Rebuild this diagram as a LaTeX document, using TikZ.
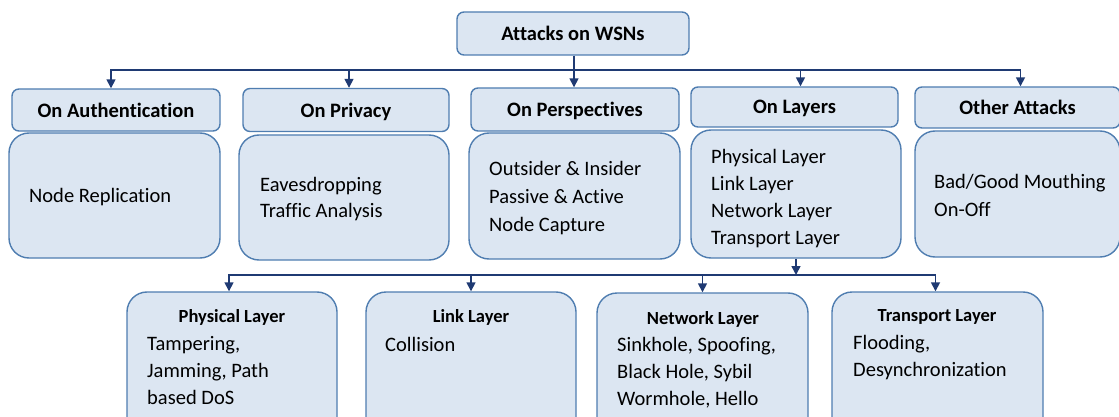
\documentclass[tikz,border=0pt]{standalone}
\usepackage{fontspec}
\setmainfont[Ligatures=NoCommon]{Carlito}
\usetikzlibrary{arrows.meta}
\definecolor{boxfill}{HTML}{DCE6F2}
\definecolor{boxline}{HTML}{4F7DB0}
\definecolor{arrowc}{HTML}{1F3A73}
\tikzset{
  hdr/.style={draw=boxline, fill=boxfill, line width=1.4pt, rounded corners=7pt, inner sep=0pt,
    text depth=0pt, font=\bfseries\fontsize{20.5}{22}\selectfont},
  cbox/.style={draw=boxline, fill=boxfill, line width=1.4pt, rounded corners=20pt, inner sep=0pt},
  txt/.style={anchor=west, align=left, inner sep=0pt, yshift=-2pt, font=\fontsize{20.5}{27.5}\selectfont},
  subhdr/.style={inner sep=0pt, font=\bfseries\fontsize{18.5}{20}\selectfont},
  arr/.style={draw=arrowc, line width=1.6pt, -{Triangle[length=9pt,width=9pt]}}
}
\begin{document}
\begin{tikzpicture}[x=1pt,y=-1pt]
\useasboundingbox (0,0) rectangle (1119,417);
% top
\node[hdr, minimum width=232pt, minimum height=43pt] (top) at (573,33.5) {Attacks on WSNs};
% headers
\node[hdr, minimum width=208pt, minimum height=42pt] (authH) at (116,110) {On Authentication};
\node[hdr, minimum width=206pt, minimum height=43pt] (privH) at (346,110) {On Privacy};
\node[hdr, minimum width=208pt, minimum height=43pt] (perH) at (575,109.5) {On Perspectives};
\node[hdr, minimum width=207pt, minimum height=40pt] (layH) at (794.5,107) {On Layers};
\node[hdr, minimum width=205pt, minimum height=41pt] (othH) at (1017.5,107.5) {Other Attacks};
% content boxes
\node[cbox, minimum width=211pt, minimum height=125pt] (authC) at (114.5,195.5) {};
\node[cbox, minimum width=210pt, minimum height=125pt] (privC) at (344,197.5) {};
\node[cbox, minimum width=211pt, minimum height=126pt] (perC) at (574.5,196) {};
\node[cbox, minimum width=210pt, minimum height=128pt] (layC) at (796,194) {};
\node[cbox, minimum width=205pt, minimum height=126pt] (othC) at (1017.5,194) {};
\node[txt] (authT) at (29,195) {Node Replication};
\node[txt, font=\fontsize{20.5}{25.5}\selectfont] (privT) at (260,197) {Eavesdropping\\Traffic Analysis};
\node[txt, font=\fontsize{20.5}{28}\selectfont] (perT) at (489,196) {Outsider \& Insider\\Passive \& Active\\Node Capture};
\node[txt, font=\fontsize{20.5}{27}\selectfont] (layT) at (711,196.5) {Physical Layer\\Link Layer\\Network Layer\\Transport Layer};
\node[txt] (othT) at (934,193.5) {Bad/Good Mouthing\\On-Off};
% bottom boxes
\node[cbox, minimum width=210pt, minimum height=150pt] (phyB) at (232,367) {};
\node[cbox, minimum width=210pt, minimum height=150pt] (linkB) at (471,367) {};
\node[cbox, minimum width=211pt, minimum height=150pt] (netB) at (702.5,368) {};
\node[cbox, minimum width=211pt, minimum height=150pt] (traB) at (937.5,367) {};
\node[subhdr] (phyH) at (232,317) {Physical Layer};
\node[subhdr] (linkH) at (471,317) {Link Layer};
\node[subhdr] (netH) at (703,319) {Network Layer};
\node[subhdr] (traH) at (937,317) {Transport Layer};
\node[txt, font=\fontsize{20.5}{27}\selectfont] (phyT) at (147,369) {Tampering,\\Jamming, Path\\based DoS};
\node[txt] (linkT) at (385,342) {Collision};
\node[txt, font=\fontsize{20.5}{27}\selectfont] (netT) at (617,371) {Sinkhole, Spoofing,\\Black Hole, Sybil\\Wormhole, Hello};
\node[txt, font=\fontsize{20.5}{27}\selectfont] (traT) at (853,355.5) {Flooding,\\Desynchronization};
% connectors top
\coordinate (j) at (574,70);
\draw[arr] (top.south -| j) -- (perH.north -| j);
\draw[arr] (j) -| ([xshift=-5pt]authH.north);
\draw[arr] (j) -| ([xshift=3pt]privH.north);
\draw[arr] (j) -| ([xshift=6pt]layH.north);
\draw[arr] (j) -| ([xshift=3pt]othH.north);
% connectors bottom
\coordinate (k) at (796,275);
\draw[arr] (layC.south -| k) -- (k);
\draw[arr] (k) -| ([xshift=-3pt]phyB.north);
\draw[arr] (k) -| (linkB.north);
\draw[arr] (k) -| (netB.north);
\draw[arr] (k) -| ([xshift=-2pt]traB.north);
\end{tikzpicture}
\end{document}
